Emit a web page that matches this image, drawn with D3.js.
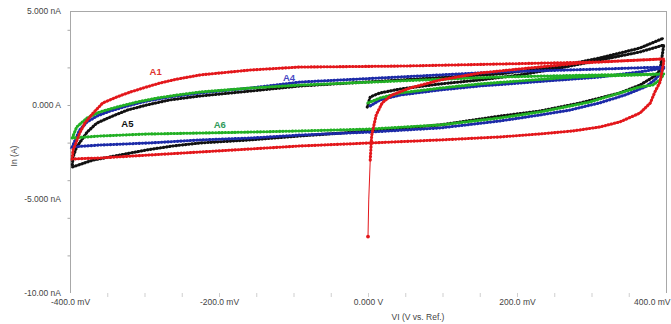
<!DOCTYPE html>
<html lang="en">
<head>
    <meta charset="UTF-8">
    <title>Cyclic voltammograms A1 A4 A5 A6</title>
    <script src="https://d3js.org/d3.v7.min.js"></script>
    <style>
        body { margin: 0; background: #fff; }
        svg { display: block; }
        text {
            font-family: "Liberation Sans", Arial, sans-serif;
            font-size: 8.5px;
            fill: #444;
        }
        .tag { font-size: 9.5px; font-weight: bold; }
    </style>
</head>
<body>
    <script>
        const width = 671;
        const height = 324;

        // potential (mV) , current (nA), in scan order
        const a1Spike = [[0, -7.0], [1, -5.05], [3, -2.93]];
        const a1 = [
            [3, -2.93], [5, -1.6], [11, -0.53], [19, 0.11], [32, 0.53], [56, 0.9], [97, 1.33],
            [150, 1.7], [217, 1.97], [285, 2.23], [338, 2.34], [397, 2.45],
            [397, 2.29], [392, 1.22], [385, 0.69], [379, 0.11], [365, -0.43], [338, -0.9],
            [311, -1.17], [275, -1.38], [231, -1.54], [177, -1.7], [97, -1.86], [3, -2.02],
            [-91, -2.18], [-158, -2.34], [-225, -2.5], [-293, -2.66], [-360, -2.82], [-397, -2.87],
            [-396, -2.39], [-393, -2.13], [-387, -1.49], [-380, -0.96], [-369, -0.43], [-356, 0.11],
            [-337, 0.43], [-319, 0.69], [-297, 0.96], [-279, 1.17], [-256, 1.38], [-225, 1.6],
            [-158, 1.86], [-91, 2.02], [43, 2.07], [177, 2.18], [311, 2.29], [397, 2.45]
        ];
        const a4 = [
            [3, -0.05], [16, 0.27], [43, 0.53], [97, 0.8], [150, 1.01], [204, 1.17], [258, 1.33],
            [311, 1.49], [365, 1.76], [397, 1.97],
            [392, 1.65], [385, 1.33], [372, 0.96], [345, 0.53], [311, 0.11], [271, -0.27],
            [231, -0.53], [177, -0.85], [97, -1.22], [3, -1.44], [-91, -1.6], [-158, -1.76],
            [-225, -1.86], [-293, -2.02], [-360, -2.13], [-397, -2.23],
            [-393, -1.86], [-387, -1.33], [-377, -0.9], [-364, -0.59], [-346, -0.32], [-323, -0.05],
            [-297, 0.21], [-266, 0.43], [-225, 0.64], [-158, 0.9], [-91, 1.22], [43, 1.49],
            [177, 1.76], [311, 1.91], [397, 2.02]
        ];
        const a5 = [
            [-1, -0.11], [3, 0.43], [16, 0.64], [43, 0.85], [97, 1.12], [150, 1.33], [204, 1.6],
            [258, 1.97], [311, 2.39], [365, 2.82], [397, 3.19],
            [394, 2.39], [392, 1.86], [385, 1.54], [365, 1.06], [338, 0.64], [285, 0.11],
            [231, -0.32], [177, -0.59], [97, -1.06], [3, -1.38], [-91, -1.65], [-158, -1.86],
            [-225, -2.02], [-262, -2.18], [-297, -2.39], [-333, -2.66], [-369, -2.93], [-397, -3.3],
            [-396, -2.77], [-391, -2.23], [-377, -1.44], [-364, -0.96], [-346, -0.64], [-323, -0.27],
            [-297, 0], [-266, 0.27], [-225, 0.48], [-158, 0.74], [-91, 1.01], [43, 1.33],
            [177, 1.65], [258, 2.07], [311, 2.5], [365, 3.03], [397, 3.56]
        ];
        const a6 = [
            [0, 0.11], [16, 0.37], [43, 0.64], [97, 0.9], [150, 1.12], [204, 1.28], [258, 1.44],
            [311, 1.54], [365, 1.6], [397, 1.65],
            [392, 1.33], [382, 1.06], [365, 0.96], [338, 0.64], [298, 0.16], [258, -0.16],
            [231, -0.37], [177, -0.69], [97, -1.06], [3, -1.28], [-91, -1.38], [-158, -1.44],
            [-225, -1.49], [-293, -1.54], [-360, -1.65], [-397, -1.76],
            [-391, -1.17], [-377, -0.69], [-360, -0.37], [-337, -0.11], [-310, 0.16], [-283, 0.37],
            [-256, 0.53], [-225, 0.69], [-158, 0.9], [-91, 1.06], [43, 1.28], [177, 1.49],
            [311, 1.6], [397, 1.65]
        ];

        const xTicks = [-400, -200, 0, 200, 400];
        const xTickLabels = ["-400.0 mV", "-200.0 mV", "0.000 V", "200.0 mV", "400.0 mV"];
        const yTicks = [5, 0, -5, -10];
        const yTickLabels = ["5.000 nA", "0.000 A", "-5.000 nA", "-10.00 nA"];

        const series = [
            { name: "A5", data: a5, color: "#111111", tagColor: "#111111", tag: [-323, -1.0] },
            { name: "A4", data: a4, color: "#1c2aa8", tagColor: "#4848c4", tag: [-106, 1.43] },
            { name: "A6", data: a6, color: "#22b024", tagColor: "#2f9a5a", tag: [-199, -1.06] },
            { name: "A1", data: a1, color: "#e3171b", tagColor: "#e0342e", tag: [-285, 1.75] }
        ];

        const x = d3.scaleLinear().domain([-400, 400]).range([70, 666]);
        const y = d3.scaleLinear().domain([-10, 5]).range([293, 11]);

        const svg = d3.select("body").append("svg")
            .attr("width", width)
            .attr("height", height);

        // frame: left axis, top and right edges of the plot area
        const frame = svg.append("g").attr("stroke", "#a8a8a8").attr("stroke-width", 1);
        frame.append("line").attr("x1", x(-400)).attr("x2", x(400)).attr("y1", y(5) + 0.5).attr("y2", y(5) + 0.5);
        frame.append("line").attr("x1", x(400) + 0.5).attr("x2", x(400) + 0.5).attr("y1", y(5)).attr("y2", y(-10));
        frame.append("line").attr("x1", x(-400) + 0.5).attr("x2", x(-400) + 0.5).attr("y1", y(5)).attr("y2", y(-10));

        // minor ticks
        svg.append("g")
            .attr("transform", `translate(${x(-400) + 0.5},0)`)
            .call(d3.axisLeft(y).tickValues(d3.range(4, -10, -2)).tickSize(3).tickFormat(""))
            .call(g => g.select(".domain").remove())
            .call(g => g.selectAll("line").attr("stroke", "#a8a8a8"));

        svg.append("g")
            .attr("transform", `translate(0,${y(-10)})`)
            .call(d3.axisBottom(x).tickValues(d3.range(-350, 400, 50)).tickSize(4).tickFormat(""))
            .call(g => g.select(".domain").remove())
            .call(g => g.selectAll("line").attr("stroke", "#cfcfcf"));

        // tick labels
        svg.append("g")
            .attr("transform", `translate(${x(-400)},0)`)
            .call(d3.axisLeft(y).tickValues(yTicks).tickSize(0).tickPadding(9)
                .tickFormat((d, i) => yTickLabels[i]))
            .call(g => g.select(".domain").remove())
            .call(g => g.selectAll("text").attr("fill", "#444").attr("font-family", null).attr("font-size", null));

        svg.append("g")
            .attr("transform", `translate(0,${y(-10)})`)
            .call(d3.axisBottom(x).tickValues(xTicks).tickSize(0).tickPadding(6)
                .tickFormat((d, i) => xTickLabels[i]))
            .call(g => g.select(".domain").remove())
            .call(g => g.selectAll("text").attr("fill", "#444").attr("font-family", null).attr("font-size", null))
            // last label kept inside the window
            .call(g => g.selectAll(".tick").filter(d => d === 400).select("text")
                .attr("text-anchor", "end").attr("x", width - 1 - x(400)));

        // axis titles
        svg.append("text")
            .attr("x", 418).attr("y", 320)
            .attr("text-anchor", "middle")
            .text("VI (V vs. Ref.)");

        svg.append("text")
            .attr("transform", "translate(17,156) rotate(-90)")
            .attr("text-anchor", "middle")
            .text("In (A)");

        const line = d3.line().x(d => x(d[0])).y(d => y(d[1]));

        // A1 starts with a fast jump: only a thin line and a first point
        svg.append("path")
            .attr("d", line(a1Spike))
            .attr("fill", "none")
            .attr("stroke", "#e3171b")
            .attr("stroke-width", 1);
        svg.append("circle")
            .attr("cx", x(a1Spike[0][0])).attr("cy", y(a1Spike[0][1]))
            .attr("r", 1.9).attr("fill", "#e3171b");

        const curves = svg.append("g");
        series.forEach(s => {
            curves.append("path")
                .attr("d", line(s.data))
                .attr("fill", "none")
                .attr("stroke", s.color)
                .attr("stroke-width", 1.3);
            // dense markers of the original export
            curves.append("path")
                .attr("d", line(s.data))
                .attr("fill", "none")
                .attr("stroke", s.color)
                .attr("stroke-width", 3.1)
                .attr("stroke-linecap", "round")
                .attr("stroke-dasharray", "0.5 2.7");
        });

        // series tags
        svg.append("g").selectAll("text")
            .data(series)
            .join("text")
            .attr("class", "tag")
            .attr("x", d => x(d.tag[0]))
            .attr("y", d => y(d.tag[1]))
            .attr("text-anchor", "middle")
            .attr("dy", "0.35em")
            .style("fill", d => d.tagColor)
            .text(d => d.name);
    </script>
</body>
</html>
